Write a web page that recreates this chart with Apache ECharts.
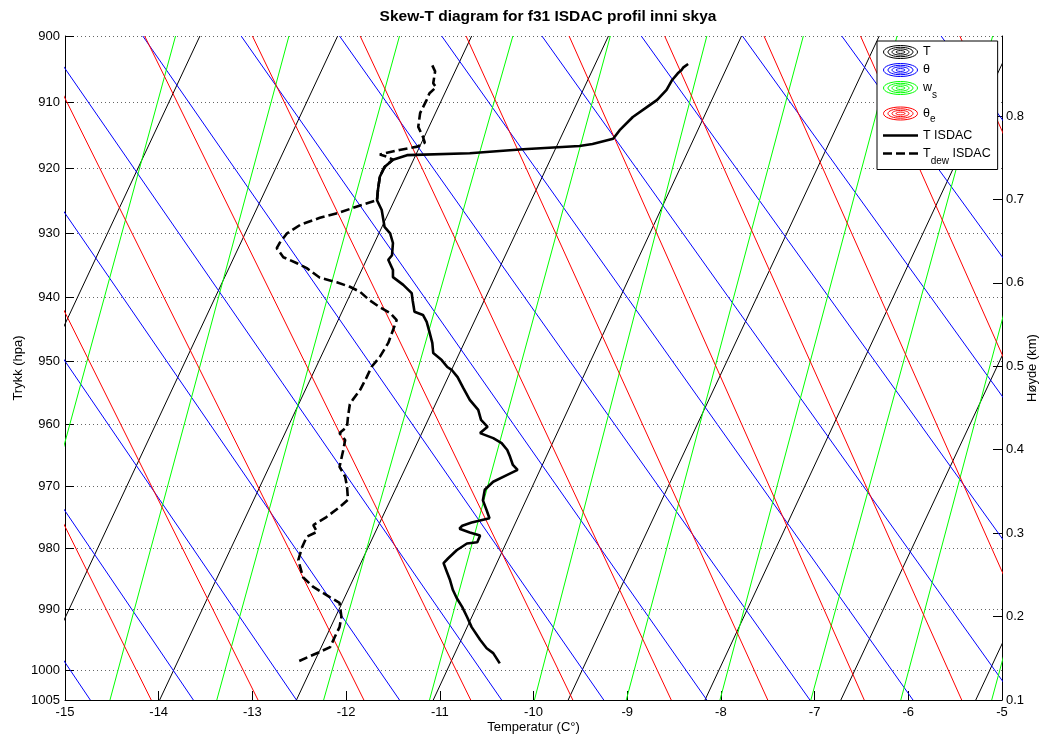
<!DOCTYPE html>
<html>
<head>
<meta charset="utf-8">
<script src="https://cdn.jsdelivr.net/npm/echarts@6/dist/echarts.min.js"></script>
<style>html,body{margin:0;padding:0;background:#fff}#c{width:1040px;height:734px}</style>
</head>
<body>
<div id="c"></div>
<script>
// ---- axis ticks ----
const tempTicks = [-15, -14, -13, -12, -11, -10, -9, -8, -7, -6, -5];
const pressureTicks = [900, 910, 920, 930, 940, 950, 960, 970, 980, 990, 1000, 1005];
const heightTicks = [0.1, 0.2, 0.3, 0.4, 0.5, 0.6, 0.7, 0.8];
const P_BOTTOM = 1005, P_TOP = 900;
const H_MIN = 0.1, H_MAX = 0.896;

// ---- background families: axis temperature at 1005 hPa (bottom) and at 900 hPa (top) ----
const isothermBottom = [-16.88, -15.41, -13.99, -12.53, -11.07, -9.63, -8.17, -6.72, -5.28];
const isothermTop    = [-13.56, -12.09, -10.66, -9.20, -7.78, -6.31, -4.86, -3.40, -1.96];
const thetaBottom = [-14.73, -13.63, -12.53, -11.43, -10.34, -9.25, -8.15, -7.05, -5.95, -4.85, -3.76, -2.66, -1.56, -0.46];
const thetaTop    = [-19.50, -18.44, -17.37, -16.30, -15.24, -14.17, -13.12, -12.07, -10.98, -9.91, -8.85, -7.77, -6.71, -5.65];
const wsBottom = [-15.75, -14.52, -13.38, -12.24, -11.11, -9.99, -9.01, -8.01, -7.04, -6.08, -5.11];
const wsTop    = [-13.82, -12.61, -11.43, -10.22, -9.18, -8.15, -7.12, -6.12, -5.10, -4.19, -3.19];
const thetaEBottom = [-14.08, -12.94, -11.81, -10.67, -9.58, -8.53, -7.50, -6.47, -5.43, -4.39, -3.36, -2.30];
const thetaETop    = [-17.60, -16.47, -15.33, -14.15, -13.00, -11.85, -10.72, -9.62, -8.60, -7.54, -6.51, -5.45];

// ---- T ISDAC profile ----
const tIsdacT = [-8.35,-8.40,-8.42,-8.46,-8.52,-8.58,-8.68,-8.79,-8.94,-9.08,
-9.15,-9.37,-9.51,-10.11,-10.68,-11.35,-11.50,-11.59,-11.64,-11.66,
-11.67,-11.62,-11.59,-11.53,-11.50,-11.51,-11.55,-11.50,-11.50,-11.39,
-11.30,-11.29,-11.27,-11.18,-11.14,-11.11,-11.08,-11.07,-10.98,-10.92,
-10.87,-10.81,-10.75,-10.68,-10.59,-10.56,-10.49,-10.57,-10.43,-10.34,
-10.28,-10.25,-10.22,-10.17,-10.28,-10.43,-10.52,-10.54,-10.50,-10.47,
-10.66,-10.76,-10.79,-10.68,-10.57,-10.60,-10.71,-10.82,-10.91,-10.96,
-10.92,-10.89,-10.86,-10.82,-10.76,-10.71,-10.66,-10.57,-10.50,-10.43,-10.36];
const tIsdacP = [904.2,904.7,905.1,905.6,906.6,908.1,909.6,910.7,912.2,914.2,
915.5,916.3,916.6,917.1,917.7,918.0,918.7,919.8,921.3,923.3,
924.9,926.4,929.0,930.0,931.5,933.4,934.1,935.7,936.8,938.0,
939.3,940.4,942.2,942.7,943.8,945.4,947.1,948.7,949.8,950.9,
951.4,952.5,954.2,956.1,957.7,959.3,960.4,961.4,962.2,963.0,
964.1,965.2,966.5,967.3,968.1,969.2,970.5,972.2,973.8,975.1,
975.8,976.3,976.8,977.4,977.9,979.0,979.2,980.3,981.6,982.4,
984.0,985.2,986.8,988.1,989.6,991.2,992.9,995.0,996.4,997.2,998.9];

// ---- Tdew ISDAC profile ----
const tdewT = [-11.08,-11.05,-11.07,-11.04,-11.11,-11.14,-11.21,-11.23,-11.18,-11.16,
-11.24,-11.43,-11.64,-11.57,-11.50,-11.59,-11.64,-11.66,-11.67,-11.85,
-12.07,-12.28,-12.49,-12.63,-12.71,-12.74,-12.67,-12.53,-12.42,-12.28,
-12.10,-11.96,-11.85,-11.75,-11.64,-11.53,-11.46,-11.50,-11.55,-11.64,
-11.73,-11.78,-11.85,-11.93,-11.96,-11.98,-11.99,-12.07,-12.01,-12.03,
-12.07,-12.01,-11.99,-11.98,-12.07,-12.21,-12.35,-12.31,-12.42,-12.47,
-12.51,-12.46,-12.35,-12.17,-12.07,-12.05,-12.07,-12.12,-12.17,-12.28,-12.50];
const tdewP = [904.4,905.3,907.1,907.7,908.6,909.6,911.6,913.7,915.2,916.1,
916.7,917.2,917.9,918.2,918.7,919.8,921.3,923.3,924.9,925.7,
926.8,927.6,928.7,930.0,931.5,932.3,933.7,934.6,935.4,936.9,
937.6,938.3,939.1,940.4,941.5,942.4,943.5,945.1,947.1,949.3,
950.9,952.5,954.5,956.1,956.8,958.8,960.4,961.4,962.5,964.1,
966.8,968.4,970.0,972.1,973.3,974.9,976.2,977.3,978.1,979.8,
981.9,984.7,986.3,988.0,988.9,991.2,992.9,994.5,996.2,997.0,998.5];

const FONT = '"Liberation Sans", Arial, Helvetica, sans-serif';
const FS = 13;

function ellipse(rx, ry) {
  const k = 0.5523;
  return `M${-rx},0 C${-rx},${-ry*k} ${-rx*k},${-ry} 0,${-ry} C${rx*k},${-ry} ${rx},${-ry*k} ${rx},0 ` +
         `C${rx},${ry*k} ${rx*k},${ry} 0,${ry} C${-rx*k},${ry} ${-rx},${ry*k} ${-rx},0 Z`;
}
const ringIcon = 'path://' + [[17,6.5],[12.5,4.7],[8.5,3.1],[4.5,1.4]].map(e => ellipse(e[0], e[1])).join(' ');
const solidIcon = 'path://M0,0h35v2.6h-35z';
const dashIcon = 'path://M0,0h9v2.6h-9z M13,0h9v2.6h-9z M26,0h9v2.6h-9z';

function bgSeries(name, color, bottoms, tops) {
  return bottoms.map((b, i) => ({
    name: name, type: 'line', yAxisIndex: 0,
    data: [[b, P_BOTTOM], [tops[i], P_TOP]],
    symbol: 'none', showSymbol: false, silent: true, clip: true,
    lineStyle: { color: color, width: 1 }, itemStyle: { color: color }, z: 1
  }));
}

const series = [].concat(
  bgSeries('T', '#000000', isothermBottom, isothermTop),
  bgSeries('θ', '#0000ff', thetaBottom, thetaTop),
  bgSeries('ws', '#00ff00', wsBottom, wsTop),
  bgSeries('θe', '#ff0000', thetaEBottom, thetaETop),
  [{
    name: 'T ISDAC', type: 'line', yAxisIndex: 0,
    data: tIsdacT.map((t, i) => [t, tIsdacP[i]]),
    symbol: 'none', showSymbol: false, clip: true, z: 3,
    lineStyle: { color: '#000', width: 2.6 }, itemStyle: { color: '#000' }
  }, {
    name: 'Tdew ISDAC', type: 'line', yAxisIndex: 0,
    data: tdewT.map((t, i) => [t, tdewP[i]]),
    symbol: 'none', showSymbol: false, clip: true, z: 3,
    lineStyle: { color: '#000', width: 2.6, type: [9, 4] }, itemStyle: { color: '#000' }
  }]
);

const ringStyle = c => ({ color: 'rgba(0,0,0,0)', borderColor: c, borderWidth: 1 });
const legendLabel = {
  'T': 'T', 'θ': 'θ',
  'ws': '{w|w}{ws|s}',
  'θe': '{e0|θ}{e|e}',
  'T ISDAC': 'T ISDAC',
  'Tdew ISDAC': '{t|T}{d|dew}{t| ISDAC}'
};
const base = { fontFamily: FONT, fontSize: 12.5, color: '#000' };
const sub = { fontFamily: FONT, fontSize: 10, color: '#000' };

const option = {
  animation: false,
  backgroundColor: '#fff',
  title: {
    text: 'Skew-T diagram for f31 ISDAC profil inni skya',
    left: 548, top: 9, padding: 0, textAlign: 'center',
    textStyle: { fontFamily: FONT, fontSize: 15.5, fontWeight: 'bold', color: '#000' }
  },
  grid: { left: 65, right: 38, top: 36, bottom: 34, containLabel: false, outerBoundsMode: 'none' },
  legend: {
    orient: 'vertical', left: 877, top: 41, padding: [4, 7, 3, 6],
    backgroundColor: '#fff', borderColor: '#000', borderWidth: 1,
    itemWidth: 35, itemHeight: 13, itemGap: 4, selectedMode: false,
    textStyle: Object.assign({}, base, { lineHeight: 14,
      rich: {
        w: Object.assign({}, base, { lineHeight: 14 }),
        ws: Object.assign({}, sub, { lineHeight: 14, padding: [7.5, 0, -7.5, 0] }),
        e0: Object.assign({}, base, { lineHeight: 18 }),
        e: Object.assign({}, sub, { lineHeight: 18, padding: [6, 0, -6, 0] }),
        t: Object.assign({}, base, { lineHeight: 14 }),
        d: Object.assign({}, sub, { lineHeight: 14, padding: [8, 0, -8, 0] })
      } }),
    formatter: n => legendLabel[n] || n,
    data: [
      { name: 'T', icon: ringIcon, itemStyle: ringStyle('#000') },
      { name: 'θ', icon: ringIcon, itemStyle: ringStyle('#0000ff') },
      { name: 'ws', icon: ringIcon, itemStyle: ringStyle('#00ff00') },
      { name: 'θe', icon: ringIcon, itemStyle: ringStyle('#ff0000') },
      { name: 'T ISDAC', icon: solidIcon, itemStyle: { color: '#000', borderWidth: 0 } },
      { name: 'Tdew ISDAC', icon: dashIcon, itemStyle: { color: '#000', borderWidth: 0 } }
    ]
  },
  xAxis: {
    type: 'value', min: tempTicks[0], max: tempTicks[tempTicks.length - 1], interval: 1,
    name: 'Temperatur (C°)', nameLocation: 'middle', nameGap: 21, nameMoveOverlap: false,
    nameTextStyle: { fontFamily: FONT, fontSize: FS, color: '#000' },
    axisLine: { show: true, onZero: false, lineStyle: { color: '#000', width: 1 } },
    axisTick: { show: true, inside: true, length: 9, lineStyle: { color: '#000' } },
    axisLabel: { margin: 6, fontFamily: FONT, fontSize: FS, color: '#000' },
    splitLine: { show: false }
  },
  yAxis: [{
    type: 'log', logBase: 10, min: P_TOP, max: P_BOTTOM, inverse: true, position: 'left',
    name: 'Trykk (hpa)', nameLocation: 'middle', nameGap: 40, nameRotate: 90, nameMoveOverlap: false,
    nameTextStyle: { fontFamily: FONT, fontSize: FS, color: '#000' },
    axisLine: { show: true, onZero: false, lineStyle: { color: '#000', width: 1 } },
    axisTick: { show: true, inside: true, length: 9, customValues: pressureTicks, lineStyle: { color: '#000' } },
    axisLabel: { customValues: pressureTicks, margin: 5, fontFamily: FONT, fontSize: FS, color: '#000',
      formatter: v => String(Math.round(v)) },
    splitLine: { show: true, lineStyle: { color: '#666', width: 1, type: [1, 3] } }
  }, {
    type: 'value', min: H_MIN, max: H_MAX, position: 'right',
    name: 'Høyde (km)', nameLocation: 'middle', nameGap: 24, nameRotate: 90, nameMoveOverlap: false,
    nameTextStyle: { fontFamily: FONT, fontSize: FS, color: '#000' },
    axisLine: { show: true, onZero: false, lineStyle: { color: '#000', width: 1 } },
    axisTick: { show: true, inside: true, length: 9, customValues: heightTicks, lineStyle: { color: '#000' } },
    axisLabel: { customValues: heightTicks, margin: 4, fontFamily: FONT, fontSize: FS, color: '#000',
      formatter: v => Number(v).toFixed(1) },
    splitLine: { show: false }
  }],
  series: series
};

const chart = echarts.init(document.getElementById('c'), null, { renderer: 'canvas' });
chart.setOption(option);
</script>
</body>
</html>
